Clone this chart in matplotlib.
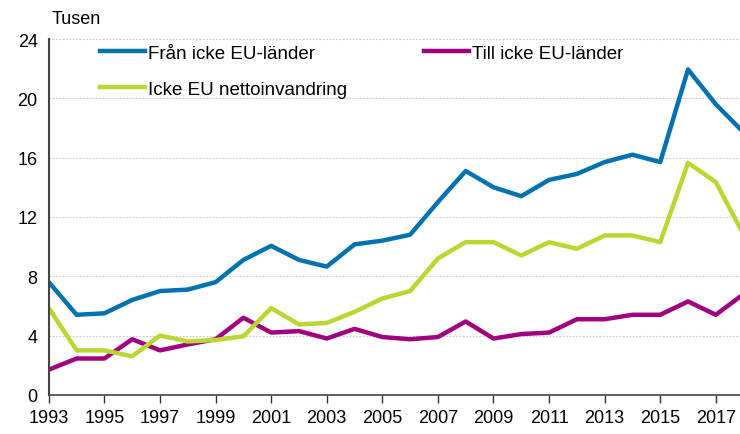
import numpy as np
import matplotlib.pyplot as plt

years = np.arange(1993, 2019)

# Tusen personer
fran_icke_eu = [7.6, 5.4, 5.5, 6.4, 7.0, 7.1, 7.6, 9.1, 10.05, 9.1, 8.65, 10.15,
                10.4, 10.8, 13.0, 15.1, 14.0, 13.4, 14.5, 14.9, 15.7, 16.2,
                15.7, 21.95, 19.6, 17.7]
till_icke_eu = [1.7, 2.45, 2.45, 3.75, 3.0, 3.4, 3.75, 5.2, 4.2, 4.3, 3.8, 4.45,
                3.9, 3.75, 3.9, 4.95, 3.8, 4.1, 4.2, 5.1, 5.1, 5.4, 5.4, 6.3,
                5.4, 6.8]
netto_icke_eu = [5.85, 3.0, 3.0, 2.6, 4.0, 3.6, 3.7, 3.95, 5.85, 4.75, 4.85, 5.6,
                 6.5, 7.0, 9.2, 10.3, 10.3, 9.4, 10.3, 9.85, 10.75, 10.75,
                 10.3, 15.65, 14.35, 10.8]

plt.rcParams['font.family'] = ['Liberation Sans', 'DejaVu Sans']

fig = plt.figure(figsize=(7.4, 4.35), dpi=100)
ax = fig.add_axes([0.066, 0.09, 0.934, 0.818])

l1, = ax.plot(years, fran_icke_eu, color='#0072B0', lw=3.2, label='Från icke EU-länder')
l2, = ax.plot(years, till_icke_eu, color='#A1007F', lw=3.2, label='Till icke EU-länder')
l3, = ax.plot(years, netto_icke_eu, color='#BCD631', lw=3.2, label='Icke EU nettoinvandring')

ax.set_xlim(1993, 2017.87)
ax.set_ylim(0, 24)
ax.set_yticks(np.arange(0, 25, 4))
ax.set_xticks(np.arange(1993, 2018, 2))
ax.tick_params(axis='y', length=0, labelsize=13, pad=8)
ax.tick_params(axis='x', length=6, width=1, color='#333333', labelsize=13, pad=4)
ax.yaxis.grid(True, color='#c8c8c8', ls=(0, (1.5, 1.5)), lw=0.8)
ax.set_axisbelow(True)
for s in ['top', 'right']:
    ax.spines[s].set_visible(False)
ax.spines['left'].set_color('#444444')
ax.spines['left'].set_linewidth(1.5)
ax.spines['bottom'].set_color('#444444')
ax.spines['bottom'].set_linewidth(1.2)

ax.legend(handles=[l1, l3, l2], ncol=2, loc='upper left', bbox_to_anchor=(0.05, 1.032),
          frameon=False, fontsize=13.5, handlelength=2.4, handletextpad=0.15,
          columnspacing=4.1, labelspacing=1.0)

fig.text(0.07, 0.955, 'Tusen', fontsize=13, ha='left', va='center')

fig.savefig('out.png', dpi=100)
